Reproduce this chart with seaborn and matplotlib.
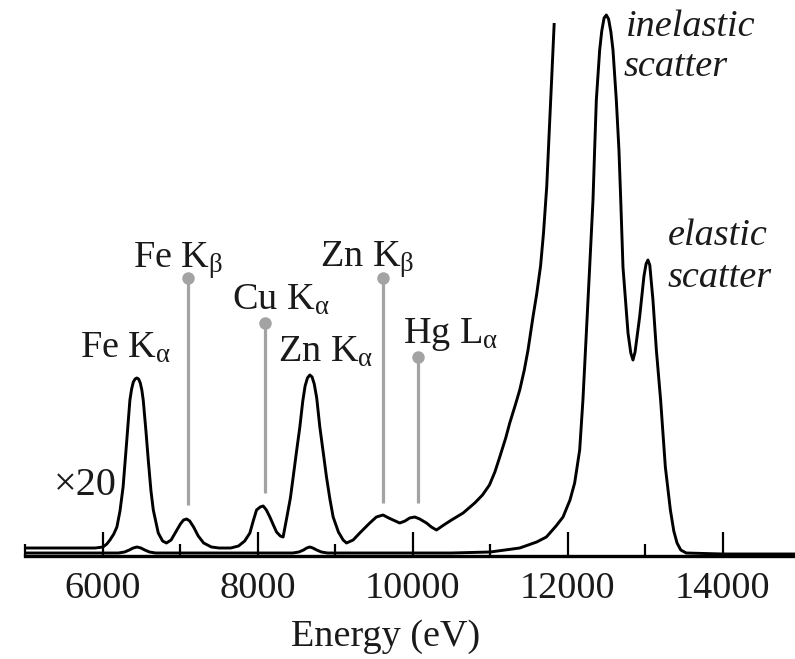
import matplotlib
matplotlib.use("Agg")
import matplotlib.pyplot as plt
import seaborn as sns
import pandas as pd
from matplotlib.ticker import MultipleLocator, FixedLocator

# ---------------- data ----------------
# x20 magnified spectrum (energy in eV, intensity in arbitrary units)
energy_x20 = [5000, 5500, 5900, 6000, 6050, 6090, 6140, 6180, 6220, 6260, 6305, 6348,
              6370, 6392, 6415, 6437, 6460, 6482, 6502, 6520, 6555, 6585, 6620, 6650,
              6714, 6770, 6820, 6880, 6940, 7000, 7040, 7080, 7120, 7170, 7230, 7300,
              7400, 7500, 7650, 7750, 7830, 7897, 7940, 7983, 8030, 8069, 8110, 8155,
              8200, 8241, 8290, 8326, 8370, 8420, 8456, 8500, 8542, 8580, 8610, 8640,
              8671, 8700, 8728, 8760, 8800, 8845, 8886, 8930, 8972, 9040, 9101, 9145,
              9230, 9316, 9380, 9445, 9530, 9616, 9690, 9746, 9832, 9900, 9960, 10026,
              10090, 10177, 10240, 10306, 10400, 10500, 10650, 10800, 10900, 10990,
              11060, 11123, 11200, 11252, 11320, 11381, 11440, 11488, 11552, 11600,
              11650, 11688, 11730, 11761, 11795, 11826]
counts_x20 = [8, 8, 8, 9, 12, 16, 22, 29, 45, 69, 113, 156,
              167, 174, 177, 178, 177, 173, 166, 156, 125, 96, 65, 46,
              23, 15, 13, 16, 24, 32, 36, 37, 35, 29, 20, 13,
              9, 8, 8, 10, 15, 23, 35, 46, 49, 50, 46, 39,
              31, 24, 20, 19, 37, 58, 79, 105, 129, 155, 170, 178,
              181, 179, 172, 158, 129, 103, 79, 57, 39, 24, 16, 13,
              16, 23, 28, 33, 39, 41, 38, 36, 33, 35, 38, 39,
              37, 33, 29, 26, 31, 36, 43, 53, 61, 71,
              84, 99, 118, 133, 150, 166, 186, 206, 239, 262,
              290, 323, 370, 423, 480, 533]

# unscaled spectrum
energy_x1 = [5000, 6000, 6200, 6280, 6340, 6390, 6440, 6490, 6540, 6600, 6680, 7000,
             8000, 8450, 8530, 8590, 8630, 8671, 8710, 8760, 8820, 8900, 9500, 10500,
             11000, 11381, 11600, 11725, 11850, 11940, 12030, 12090, 12155, 12197,
             12241, 12284, 12327, 12348, 12370, 12413, 12440, 12470, 12499, 12528,
             12558, 12585, 12628, 12662, 12685, 12714, 12779, 12815, 12843, 12870,
             12929, 12985, 13012, 13036, 13060, 13101, 13145, 13200, 13261, 13326,
             13370, 13412, 13460, 13531, 14000, 15000]
counts_x1 = [3, 3, 3, 4, 6, 8, 9, 8, 6, 4, 3, 3,
             3, 3, 4, 6, 8, 9, 8, 6, 4, 3, 3, 3,
             4, 8, 14, 19, 30, 39, 56, 73, 106, 156,
             223, 289, 356, 406, 456, 506, 525, 538, 541, 537,
             524, 506, 456, 406, 356, 289, 223, 203, 196, 204,
             239, 280, 292, 296, 291, 256, 206, 156, 89, 46,
             25, 13, 6, 3, 2, 2]

# emission-line markers
marker_labels = [r"Fe K$_{\mathrm{\beta}}$", r"Cu K$_{\mathrm{\alpha}}$",
                 r"Zn K$_{\mathrm{\beta}}$", r"Hg L$_{\mathrm{\alpha}}$"]
marker_energy = [7101, 8090, 9617, 10068]
marker_low = [51, 63, 53, 53]
marker_high = [278, 233, 278, 199]

peak_labels = [r"Fe K$_{\mathrm{\alpha}}$", r"Zn K$_{\mathrm{\alpha}}$"]

tick_values = [6000, 8000, 10000, 12000, 14000]
tick_labels = ["6000", "8000", "10000", "12000", "14000"]

# ---------------- style ----------------
sns.set_theme(style="white")
plt.rcParams["font.family"] = ["Liberation Serif", "DejaVu Serif"]
plt.rcParams["mathtext.fontset"] = "custom"
plt.rcParams["mathtext.rm"] = "Liberation Serif"
plt.rcParams["mathtext.it"] = "Liberation Serif:italic"
plt.rcParams["mathtext.bf"] = "Liberation Serif:bold"

FS = 27.5
TXT = "#1a1a1a"
fig = plt.figure(figsize=(7.95, 6.59), dpi=100)
ax = fig.add_axes([25.5 / 795, 103 / 659, 1 - 25.5 / 795, 556 / 659])

df20 = pd.DataFrame({"energy": energy_x20, "counts": counts_x20})
df1 = pd.DataFrame({"energy": energy_x1, "counts": counts_x1})

line_kw = dict(color="black", linewidth=2.1, estimator=None, sort=False)
sns.lineplot(data=df20, x="energy", y="counts", ax=ax, **line_kw)
sns.lineplot(data=df1, x="energy", y="counts", ax=ax, **line_kw)
for ln in ax.lines:
    ln.set_solid_joinstyle("round")
    ln.set_solid_capstyle("butt")

# gray marker lines with dots
gray = "#a3a3a3"
for e, lo, hi in zip(marker_energy, marker_low, marker_high):
    ax.plot([e, e], [lo, hi], color=gray, linewidth=2.3, solid_capstyle="butt", zorder=1)
    ax.plot([e], [hi], marker="o", markersize=9, color=gray, markeredgewidth=0, zorder=1)

# labels
label_pos = [(6387, 288), (7665, 246), (8800, 289), (9871, 213)]
for txt, (x, y) in zip(marker_labels, label_pos):
    ax.text(x, y, txt, fontsize=FS, ha="left", va="baseline", color=TXT)
peak_pos = [(5703, 198), (8258, 194)]
for txt, (x, y) in zip(peak_labels, peak_pos):
    ax.text(x, y, txt, fontsize=FS, ha="left", va="baseline", color=TXT)

ax.text(12748, 520, "inelastic", fontsize=FS, style="italic", ha="left", va="baseline", color=TXT)
ax.text(12725, 480, "scatter", fontsize=FS, style="italic", ha="left", va="baseline", color=TXT)
ax.text(13290, 311, "elastic", fontsize=FS, style="italic", ha="left", va="baseline", color=TXT)
ax.text(13290, 269, "scatter", fontsize=FS, style="italic", ha="left", va="baseline", color=TXT)
ax.text(5768, 61, "\u00d720", fontsize=29, ha="center", va="baseline", color=TXT)

# axes
ax.set_xlim(5000, 14935)
ax.set_ylim(0, 556)
for s in ["left", "right", "top"]:
    ax.spines[s].set_visible(False)
ax.spines["bottom"].set_linewidth(2.4)
ax.spines["bottom"].set_color("black")
ax.set_yticks([])
ax.xaxis.set_major_locator(FixedLocator(tick_values))
ax.set_xticklabels(tick_labels)
ax.xaxis.set_minor_locator(MultipleLocator(1000))
ax.tick_params(axis="x", which="major", direction="in", length=17, width=1.6,
               labelsize=FS, pad=11.5, colors="black", labelcolor=TXT, bottom=True)
ax.tick_params(axis="x", which="minor", direction="in", length=8.5, width=1.6,
               colors="black", bottom=True)
ax.set_xlabel("Energy (eV)", fontsize=FS, color=TXT)
ax.xaxis.label.set_va("baseline")
ax.xaxis.set_label_coords((386 - 25.5) / (795 - 25.5), -(646 - 556) / 556)
ax.set_ylabel("")
ax.patch.set_alpha(0)

fig.savefig("out.png", dpi=100)
